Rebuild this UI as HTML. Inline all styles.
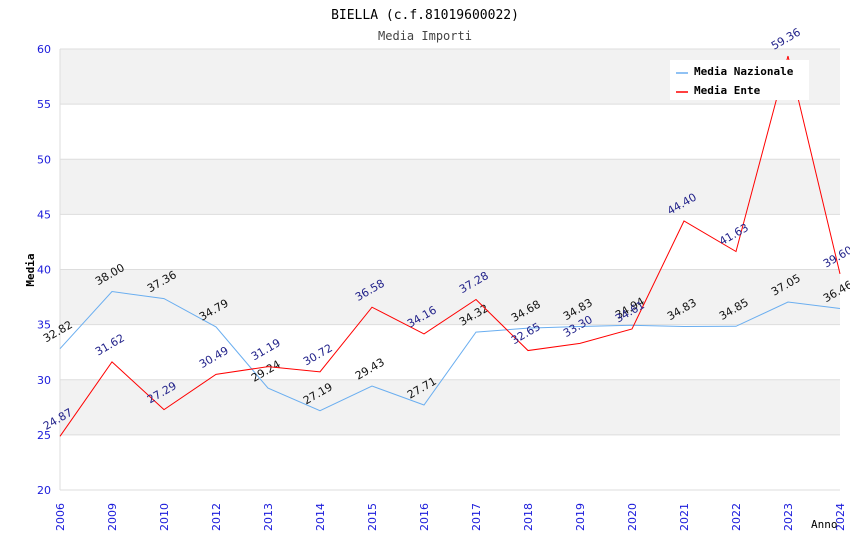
<!DOCTYPE html>
<html><head><meta charset="utf-8"><style>
body{margin:0;background:#fff}
svg text{font-family:"DejaVu Sans","Liberation Sans",sans-serif}
</style></head><body>
<svg id="c" width="850" height="550" xmlns="http://www.w3.org/2000/svg">
<text x="425" y="19" text-anchor="middle" font-size="13" font-family="DejaVu Sans Mono, monospace" style="font-family:'DejaVu Sans Mono',monospace">BIELLA (c.f.81019600022)</text>
<text x="425" y="40" text-anchor="middle" font-size="12" fill="#444" style="font-family:'DejaVu Sans Mono',monospace">Media Importi</text>
<g id="plot"></g>
<text transform="translate(34,270) rotate(-90)" text-anchor="middle" font-size="11" font-weight="bold" style="font-family:'DejaVu Sans Mono',monospace">Media</text>
<text x="811" y="528" font-size="11" style="font-family:'DejaVu Sans Mono',monospace">Anno</text>
<g>
<rect x="670" y="60" width="139" height="40" fill="#fff"/>
<line x1="676" y1="73" x2="688" y2="73" stroke="#6aaef0" stroke-width="1.5"/>
<text x="694" y="75" font-size="11" font-weight="bold" style="font-family:'DejaVu Sans Mono',monospace">Media Nazionale</text>
<line x1="676" y1="92" x2="688" y2="92" stroke="#f00" stroke-width="1.5"/>
<text x="694" y="94" font-size="11" font-weight="bold" style="font-family:'DejaVu Sans Mono',monospace">Media Ente</text>
</g>
</svg>
<script>
const years=["2006","2009","2010","2012","2013","2014","2015","2016","2017","2018","2019","2020","2021","2022","2023","2024"];
const nazionale=[32.82,38.00,37.36,34.79,29.24,27.19,29.43,27.71,34.32,34.68,34.83,34.94,34.83,34.85,37.05,36.46];
const ente=[24.87,31.62,27.29,30.49,31.19,30.72,36.58,34.16,37.28,32.65,33.30,34.61,44.40,41.63,59.36,39.60];
const yTicks=[20,25,30,35,40,45,50,55,60];
const NS="http://www.w3.org/2000/svg";
const L=60,R=840,T=49,B=490,ymin=20,ymax=60;
const xs=i=>L+i*(R-L)/(years.length-1);
const ys=v=>B-(v-ymin)*(B-T)/(ymax-ymin);
const g=document.getElementById('plot');
function mk(t,a){const e=document.createElementNS(NS,t);for(const k in a)e.setAttribute(k,a[k]);g.appendChild(e);return e;}
for(let i=0;i<yTicks.length-1;i++){
 const band=mk('rect',{x:L,y:ys(yTicks[i+1]),width:R-L,height:ys(yTicks[i])-ys(yTicks[i+1]),fill:(i%2===1)?'#f2f2f2':'#fff'});
 
 
}
yTicks.forEach(v=>{
 const l=mk('line',{x1:L,x2:R,y1:ys(v),y2:ys(v),stroke:'#ddd'});
 
 
 const t=mk('text',{x:L-9,y:ys(v)+4,'text-anchor':'end','font-size':11,fill:'#1a1adb'});
 t.textContent=v;
 
 
});
const ax=mk('line',{x1:L,x2:L,y1:T,y2:B,stroke:'#ddd'});


years.forEach((y,i)=>{
 const t=mk('text',{transform:`translate(${xs(i)+4},${B+41}) rotate(-90)`,'font-size':11,fill:'#1a1adb'});
 t.textContent=y;
 
 
});
function series(vals,color,lab,name){
 const p=mk('polyline',{points:vals.map((v,i)=>xs(i)+','+ys(v)).join(' '),fill:'none',stroke:color,'stroke-width':1});
 
 
 vals.forEach((v,i)=>{
  const t=mk('text',{transform:`translate(${xs(i)-14},${ys(v)-6}) rotate(-30)`,'font-size':11,fill:lab});
  t.textContent=v.toFixed(2);
  
  
 });
}
series(nazionale,'#6aaef0','#111','nazionale');
series(ente,'#f00','#22228a','ente');
</script>
</body></html>
